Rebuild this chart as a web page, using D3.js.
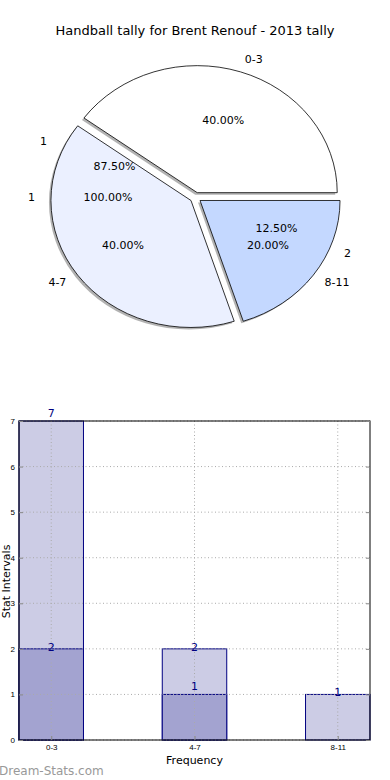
<!DOCTYPE html>
<html>
<head>
<meta charset="utf-8">
<script src="https://cdn.jsdelivr.net/npm/d3@7"></script>
<style>
  body { margin: 0; background: #fff; }
  svg { display: block; font-family: "DejaVu Sans", sans-serif; }
</style>
</head>
<body>
<div id="chart"></div>
<script>
// pie data
const pieLabels = ["0-3", "4-7", "8-11"]
const pieValues = [2, 2, 1]
const pieColors = ["#ffffff", "#ebf0ff", "#c4d8ff"]

// second pie that only shows its texts
const overlayValuesA = [7, 1]
const overlayLabelsA = ["1", "2"]
const overlayValuesB = [1]
const overlayLabelsB = ["1"]

// bar data
const barCats = ["0-3", "4-7", "8-11"]
const barTotals = [7, 2, 1]
const barLows = [2, 1, 0]
const yTicks = [0, 1, 2, 3, 4, 5, 6, 7]
const raisedLabels = [{ cat: 0, v: 7 }, { cat: 1, v: 1 }]
const lineLabels = [{ cat: 0, v: 2 }, { cat: 1, v: 2 }, { cat: 2, v: 1 }]

const W = 390, H = 780
const svg = d3.select("#chart").append("svg")
    .attr("width", W)
    .attr("height", H)

svg.append("text")
    .attr("x", 195)
    .attr("y", 35)
    .attr("text-anchor", "middle")
    .style("font-size", "13px")
    .text("Handball tally for Brent Renouf - 2013 tally")

// ---- pie ----
const cx = 195.5, cy = 197.5, rx = 140, ry = 127
const explode = 0.04
// matplotlib style: start at 3 o'clock, go counter-clockwise
const pie = d3.pie().sort(null).startAngle(Math.PI / 2).endAngle(Math.PI / 2 - 2 * Math.PI)
const arc = d3.arc().innerRadius(0).outerRadius(1)
const slices = pie(pieValues)
const mid = d => (d.startAngle + d.endAngle) / 2

const pieG = svg.append("g")

// shadows first
pieG.selectAll(".shadow")
    .data(slices)
    .enter().append("path")
    .attr("class", "shadow")
    .attr("transform", d => `translate(${cx - 2 + explode * rx * Math.sin(mid(d))},${cy + 2 - explode * ry * Math.cos(mid(d))}) scale(${rx},${ry})`)
    .attr("d", arc)
    .attr("fill", "#666")
    .attr("fill-opacity", 0.5)

pieG.selectAll(".wedge")
    .data(slices)
    .enter().append("path")
    .attr("class", "wedge")
    .attr("transform", d => `translate(${cx + explode * rx * Math.sin(mid(d))},${cy - explode * ry * Math.cos(mid(d))}) scale(${rx},${ry})`)
    .attr("d", arc)
    .attr("fill", (d, i) => pieColors[i])
    .attr("stroke", "#000")
    .attr("stroke-width", 0.8)
    .attr("vector-effect", "non-scaling-stroke")

const total = d3.sum(pieValues)
slices.forEach((d, i) => {
    const a = mid(d)
    pieG.append("text")
        .attr("x", cx + (explode + 1.1) * rx * Math.sin(a))
        .attr("y", cy - (explode + 1.1) * ry * Math.cos(a))
        .attr("text-anchor", Math.sin(a) > 0 ? "start" : "end")
        .attr("dominant-baseline", "central")
        .style("font-size", "11px")
        .text(pieLabels[i])
    pieG.append("text")
        .attr("x", cx + (explode + 0.6) * rx * Math.sin(a))
        .attr("y", cy - (explode + 0.6) * ry * Math.cos(a))
        .attr("text-anchor", "middle")
        .attr("dominant-baseline", "central")
        .style("font-size", "11px")
        .text((d.value / total * 100).toFixed(2) + "%")
})

// overlay texts
const orx = 146, ory = 133
function overlayTexts(values, labels) {
    const sum = d3.sum(values)
    pie(values).forEach((d, i) => {
        const a = mid(d)
        pieG.append("text")
            .attr("x", cx + 1.1 * orx * Math.sin(a))
            .attr("y", cy - 1.1 * ory * Math.cos(a))
            .attr("text-anchor", Math.sin(a) > 0.001 ? "start" : "end")
            .attr("dominant-baseline", "central")
            .style("font-size", "11px")
            .text(labels[i])
        pieG.append("text")
            .attr("x", cx + 0.6 * orx * Math.sin(a))
            .attr("y", cy - 0.6 * ory * Math.cos(a))
            .attr("text-anchor", "middle")
            .attr("dominant-baseline", "central")
            .style("font-size", "11px")
            .text((d.value / sum * 100).toFixed(2) + "%")
    })
}
overlayTexts(overlayValuesA, overlayLabelsA)
overlayTexts(overlayValuesB, overlayLabelsB)

// ---- bars ----
const plotL = 19, plotR = 370, plotT = 421, plotB = 740
const barW = 0.45
const x = d3.scaleLinear().domain([-barW / 2, barCats.length - 1 + barW / 2]).range([plotL, plotR])
const y = d3.scaleLinear().domain([0, 7]).range([plotB, plotT])
const bw = x(barW) - x(0)

const barG = svg.append("g")

barG.selectAll(".total")
    .data(barTotals)
    .enter().append("rect")
    .attr("x", (d, i) => x(i) - bw / 2)
    .attr("y", d => y(d))
    .attr("width", bw)
    .attr("height", d => y(0) - y(d))
    .attr("fill", "#ccccE5")
    .attr("stroke", "#000080")
    .attr("stroke-width", 1)

barG.selectAll(".low")
    .data(barLows)
    .enter().append("rect")
    .attr("x", (d, i) => x(i) - bw / 2)
    .attr("y", d => y(d))
    .attr("width", bw)
    .attr("height", d => y(0) - y(d))
    .attr("fill", "#a3a3d0")
    .attr("stroke", "#000080")
    .attr("stroke-width", 1)

// grid on top of bars
barG.selectAll(".hgrid")
    .data(yTicks)
    .enter().append("line")
    .attr("x1", plotL).attr("x2", plotR)
    .attr("y1", d => y(d)).attr("y2", d => y(d))
    .attr("stroke", "#aaa")
    .attr("stroke-dasharray", "1,2.5")
barG.selectAll(".vgrid")
    .data(barCats)
    .enter().append("line")
    .attr("x1", (d, i) => x(i)).attr("x2", (d, i) => x(i))
    .attr("y1", plotT).attr("y2", plotB)
    .attr("stroke", "#aaa")
    .attr("stroke-dasharray", "1,2.5")

// frame
barG.append("rect")
    .attr("x", plotL).attr("y", plotT)
    .attr("width", plotR - plotL).attr("height", plotB - plotT)
    .attr("fill", "none")
    .attr("stroke", "#000")

// axes (ticks inward)
const yAxis = barG.append("g")
    .attr("transform", `translate(${plotL},0)`)
    .call(d3.axisLeft(y).tickValues(yTicks).tickSize(-4).tickPadding(4).tickFormat(d3.format("d")))
yAxis.select(".domain").remove()
yAxis.selectAll("text").style("font-size", "8px")
yAxis.selectAll("line").attr("stroke", "#888")

const yAxisR = barG.append("g")
    .attr("transform", `translate(${plotR},0)`)
    .call(d3.axisRight(y).tickValues(yTicks).tickSize(-4).tickFormat(""))
yAxisR.select(".domain").remove()
yAxisR.selectAll("line").attr("stroke", "#888")

const xAxis = barG.append("g")
    .attr("transform", `translate(0,${plotB})`)
    .call(d3.axisBottom(x).tickValues([0, 1, 2]).tickSize(-4).tickPadding(4).tickFormat(i => barCats[i]))
xAxis.select(".domain").remove()
xAxis.selectAll("text").style("font-size", "8px")
xAxis.selectAll("line").attr("stroke", "#888")

// value labels
barG.selectAll(".raised")
    .data(raisedLabels)
    .enter().append("text")
    .attr("x", d => x(d.cat))
    .attr("y", d => y(d.v) - 4)
    .attr("text-anchor", "middle")
    .attr("fill", "#000080")
    .style("font-size", "11px")
    .text(d => d.v)
barG.selectAll(".online")
    .data(lineLabels)
    .enter().append("text")
    .attr("x", d => x(d.cat))
    .attr("y", d => y(d.v) + 2)
    .attr("text-anchor", "middle")
    .attr("fill", "#000080")
    .style("font-size", "11px")
    .text(d => d.v)

svg.append("text")
    .attr("x", x(1))
    .attr("y", 764)
    .attr("text-anchor", "middle")
    .style("font-size", "11px")
    .text("Frequency")

svg.append("text")
    .attr("transform", `translate(10,${(plotT + plotB) / 2 + 1}) rotate(-90)`)
    .attr("text-anchor", "middle")
    .style("font-size", "11px")
    .text("Stat Intervals")

svg.append("text")
    .attr("x", -1)
    .attr("y", 775)
    .attr("fill", "#999")
    .style("font-size", "12px")
    .text("Dream-Stats.com")
</script>
</body>
</html>
